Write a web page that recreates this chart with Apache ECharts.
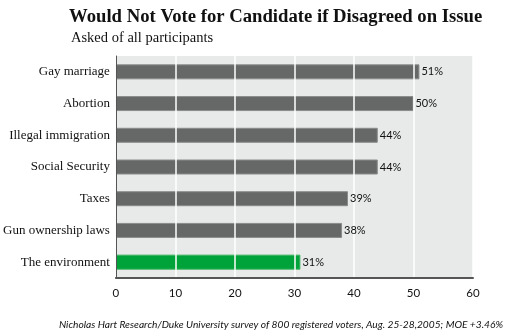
<!DOCTYPE html>
<html><head><meta charset="utf-8">
<script src="https://cdn.jsdelivr.net/npm/echarts@6/dist/echarts.min.js"></script>
<style>html,body{margin:0;padding:0;background:#fff}#c{width:512px;height:333px}</style>
</head><body><div id="c"></div>
<script>
var categories = ["Gay marriage","Abortion","Illegal immigration","Social Security","Taxes","Gun ownership laws","The environment"];
var values = [51,50,44,44,39,38,31];
var highlight = "The environment";
var xTicks = [0,10,20,30,40,50,60];

var chart = echarts.init(document.getElementById('c'));
var data = values.map(function(v,i){
  var hi = categories[i] === highlight;
  return {value:v, itemStyle:{color: hi ? '#00a23a' : '#666867', borderColor: hi ? '#3cb35e' : '#8a8b8b', borderWidth:1}};
});
chart.setOption({
  animation:false,
  title:[
    {text:'Would Not Vote for Candidate if Disagreed on Issue', left:64, top:3,
     textStyle:{fontFamily:'Liberation Serif', fontWeight:'bold', fontSize:18.7, color:'#111'}},
    {text:'Asked of all participants', left:66, top:26,
     textStyle:{fontFamily:'Liberation Serif', fontWeight:'normal', fontSize:14.5, color:'#111'}},
    {text:'Nicholas Hart Research/Duke University survey of 800 registered voters, Aug. 25-28,2005; MOE +3.46%', right:4, top:315,
     textStyle:{fontFamily:'Lato', fontStyle:'italic', fontWeight:'normal', fontSize:10.2, color:'#111'}}
  ],
  grid:{left:115, right:39, top:56, bottom:55, show:true, backgroundColor:'#e8e9e9', borderWidth:0},
  xAxis:{type:'value', min:0, max:60, interval:10, z:5,
    axisLine:{show:true, lineStyle:{color:'#555', width:2}},
    axisTick:{show:false},
    splitLine:{show:true, lineStyle:{color:'#ffffff', width:1.5}},
    axisLabel:{color:'#111', fontFamily:'Lato', fontSize:11.5, margin:9,
      formatter:function(v){return xTicks.indexOf(v)>=0 ? String(v) : '';}}
  },
  yAxis:{type:'category', data:categories, inverse:true, z:5,
    axisLine:{show:true, lineStyle:{color:'#555', width:1}},
    axisTick:{show:false},
    axisLabel:{color:'#111', fontFamily:'Liberation Serif', fontSize:13, margin:6}
  },
  series:[
    {type:'bar', data:data, barWidth:15, z:2},
    {type:'bar', data:values, barWidth:15, barGap:'-100%', z:6, silent:true,
     itemStyle:{color:'rgba(0,0,0,0)'},
     label:{show:true, position:'right', distance:2, formatter:'{c}%', fontFamily:'Lato', fontSize:11, color:'#111'}}
  ]
});
</script></body></html>
